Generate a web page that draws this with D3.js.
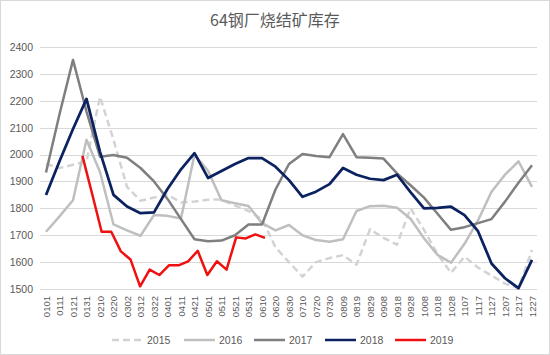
<!DOCTYPE html>
<html>
<head>
<meta charset="utf-8">
<script src="https://cdn.jsdelivr.net/npm/d3@7/dist/d3.min.js"></script>
<style>
  html, body { margin: 0; padding: 0; background: #fff; }
  svg { display: block; }
</style>
</head>
<body>
<svg id="chart" width="550" height="355"></svg>
<script>
const title = "64钢厂烧结矿库存";
const categories = ["0101","0111","0121","0131","0210","0220","0302","0312","0322","0401","0411","0421","0501","0511","0521","0531","0610","0620","0630","0710","0720","0730","0809","0819","0829","0908","0918","0928","1008","1018","1028","1107","1117","1127","1207","1217","1227"];
const yTicks = [1500,1600,1700,1800,1900,2000,2100,2200,2300,2400];

const s2015 = [1965,1950,1962,1975,2215,2055,1880,1828,1840,1850,1822,1825,1832,1833,1810,1790,1760,1655,1600,1546,1600,1615,1626,1590,1722,1690,1665,1800,1720,1630,1560,1620,1580,1550,1520,1503,1645];
const s2016 = [1713,1770,1830,2055,1935,1740,1718,1698,1775,1772,1762,2000,1940,1830,1819,1809,1745,1718,1738,1700,1682,1676,1685,1790,1808,1810,1802,1761,1689,1627,1598,1668,1755,1862,1925,1975,1880];
const s2017 = [1933,2150,2352,2160,1992,1998,1988,1950,1900,1835,1760,1685,1678,1680,1700,1740,1740,1870,1965,2002,1995,1990,2076,1990,1988,1985,1930,1886,1840,1780,1720,1730,1745,1760,1825,1895,1960];
const s2018 = [1850,1975,2095,2207,2010,1850,1807,1782,1785,1872,1945,2005,1913,1939,1965,1987,1987,1955,1905,1843,1862,1890,1950,1925,1910,1905,1925,1860,1800,1802,1806,1775,1715,1595,1540,1503,1608];

// 2019 is weekly data, drawn on a hidden secondary weekly axis (52 weeks)
const weekCount = 52;
const weeks2019 = ["0131","0207","0214","0221","0228","0307","0314","0321","0328","0404","0411","0418","0425","0502","0509","0516","0523","0530","0606","0613"];
const weekIdx2019 = [4,5,6,7,8,9,10,11,12,13,14,15,16,17,18,19,20,21,22,23];
const s2019 = [1995,1855,1713,1713,1640,1610,1510,1572,1552,1588,1588,1603,1642,1552,1603,1572,1692,1688,1703,1690];

const seriesNames = ["2015","2016","2017","2018","2019"];
const colors = {"2015":"#d3d3d3","2016":"#bfbfbf","2017":"#7f7f7f","2018":"#0b2160","2019":"#f01010"};
const dashes = {"2015":"7,4"};

const svg = d3.select("#chart");
const W = 550, H = 355;
const font = "'Liberation Sans', 'Noto Sans', sans-serif";
const txt = "#595959";

svg.append("rect").attr("x",0.5).attr("y",0.5).attr("width",W-1).attr("height",H-1)
  .attr("fill","#fff").attr("stroke","#d9d9d9");

const plotL = 40, plotR = 537;
const x = d3.scalePoint().domain(categories).range([46, 532]);
const xw = d3.scaleLinear().domain([0, weekCount-1]).range([44, 534]);
const y = d3.scaleLinear().domain([1500, 2400]).range([289, 47]);

// gridlines
svg.append("g").selectAll("line").data(yTicks).join("line")
  .attr("x1", plotL).attr("x2", plotR)
  .attr("y1", d => Math.round(y(d))+0.5).attr("y2", d => Math.round(y(d))+0.5)
  .attr("stroke", "#d9d9d9").attr("stroke-width", 1);

// y axis labels
const yAxis = d3.axisLeft(y).tickValues(yTicks).tickSize(0).tickPadding(0).tickFormat(d3.format("d"));
const gy = svg.append("g").attr("transform","translate(33,0)").call(yAxis);
gy.select(".domain").remove();
gy.selectAll("text").attr("font-family", font).attr("font-size", "10.5px").attr("fill", txt);

// x axis labels
const xAxis = d3.axisBottom(x).tickSize(0).tickPadding(0);
const gx = svg.append("g").attr("transform","translate(0,296)").call(xAxis);
gx.select(".domain").remove();
gx.selectAll("text")
  .attr("font-family", font).attr("font-size", "9.5px").attr("fill", txt)
  .attr("text-anchor","end").attr("dy","0.35em").attr("dx","0")
  .attr("transform","rotate(-90)").attr("x",0).attr("y",0);

// lines
const data = {"2015":s2015, "2016":s2016, "2017":s2017, "2018":s2018};
const line = d3.line().x((d,i) => x(categories[i])).y(d => y(d));
["2015","2016","2017","2018"].forEach(k => {
  svg.append("path").datum(data[k])
    .attr("d", line)
    .attr("fill","none")
    .attr("stroke", colors[k])
    .attr("stroke-width", k === "2018" ? 2.75 : 2.5)
    .attr("stroke-dasharray", dashes[k] || null)
    .attr("stroke-linejoin","round");
});
const line19 = d3.line().x((d,i) => xw(weekIdx2019[i])).y(d => y(d));
svg.append("path").datum(s2019)
  .attr("d", line19).attr("fill","none")
  .attr("stroke", colors["2019"]).attr("stroke-width", 2.5).attr("stroke-linejoin","round");

// title
svg.append("text").attr("x", 275).attr("y", 26).attr("text-anchor","middle")
  .attr("font-family", "'Noto Sans CJK SC', 'Noto Sans', sans-serif")
  .attr("font-size","16px").attr("fill", txt).text(title);

// legend
const legX = [112, 184, 254, 325, 395];
const lg = svg.append("g");
seriesNames.forEach((k,i) => {
  const g = lg.append("g").attr("transform", `translate(${legX[i]},340)`);
  g.append("line").attr("x1",0).attr("x2",31).attr("y1",0).attr("y2",0)
    .attr("stroke", colors[k]).attr("stroke-width", 2.5)
    .attr("stroke-dasharray", dashes[k] || null);
  g.append("text").attr("x", 35).attr("y", 0).attr("dy","0.35em")
    .attr("font-family", font).attr("font-size","10.5px").attr("fill", txt).text(k);
});
</script>
</body>
</html>
